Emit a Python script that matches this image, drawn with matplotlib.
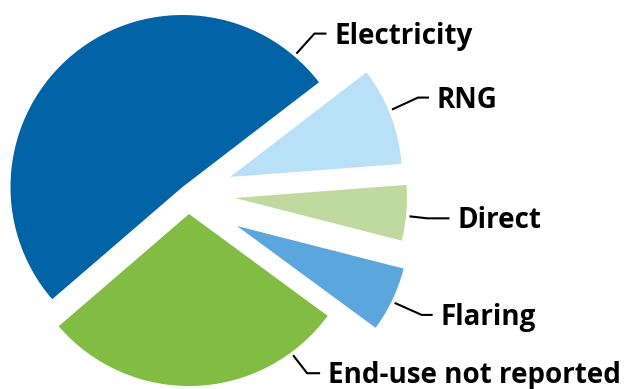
import numpy as np
import matplotlib.pyplot as plt

# biogas end-use shares (%)
labels = ["Electricity", "End-use not reported", "Flaring", "Direct", "RNG"]
shares = [50.9, 28.6, 6.1, 5.2, 9.2]
colors = ["#0063a6", "#80bd42", "#5ba6dc", "#c0d99e", "#b8e0f6"]

# wedge shifts away from the common centre, px (x right, y down)
shifts = [(-7.5, -9), (-1, 18), (47, 30), (45, 2), (40, -19)]
# leader geometry: angle on the arc, elbow offsets in px (dx, dy up, run)
label_angle = [49.5, -53.6, -26, -6, 22.6]
elbows = [(18, 20, 12), (14, -18, 13), (27, -12, 11), (18, -2, 22), (26, 12, 11)]

W, H = 624, 389
R = 172.0            # pie radius in px
cx, cy = 190, 196    # pie centre in px from top-left

plt.rcParams["font.family"] = ["Open Sans", "DejaVu Sans"]
fig = plt.figure(figsize=(W / 100, H / 100), dpi=100)
ax = fig.add_axes([0, 0, 1, 1])
ax.axis("off")

wedges, _ = ax.pie(shares, colors=colors, startangle=37.5, counterclock=True,
                   radius=1.0, center=(0, 0), wedgeprops=dict(linewidth=0))
ax.set_xlim(-cx / R, (W - cx) / R)
ax.set_ylim(-(H - cy) / R, cy / R)
ax.set_aspect("equal")

px = 1.0 / R
for w, (sx, sy) in zip(wedges, shifts):
    w.set_center((sx * px, -sy * px))

for w, lab, ang, (dx1, dy1, dx2) in zip(wedges, labels, label_angle, elbows):
    a = np.deg2rad(ang)
    x0 = w.center[0] + 1.02 * np.cos(a)
    y0 = w.center[1] + 1.02 * np.sin(a)
    x1, y1 = x0 + dx1 * px, y0 + dy1 * px
    x2 = x1 + dx2 * px
    ax.plot([x0, x1, x2], [y0, y1, y1], color="black", lw=1.5,
            solid_capstyle="butt", solid_joinstyle="miter")
    ax.text(x2 + 8 * px, y1 - 10 * px, lab, ha="left", va="baseline",
            fontsize=20, fontweight="bold", color="black")

fig.savefig("out.png", dpi=100)
